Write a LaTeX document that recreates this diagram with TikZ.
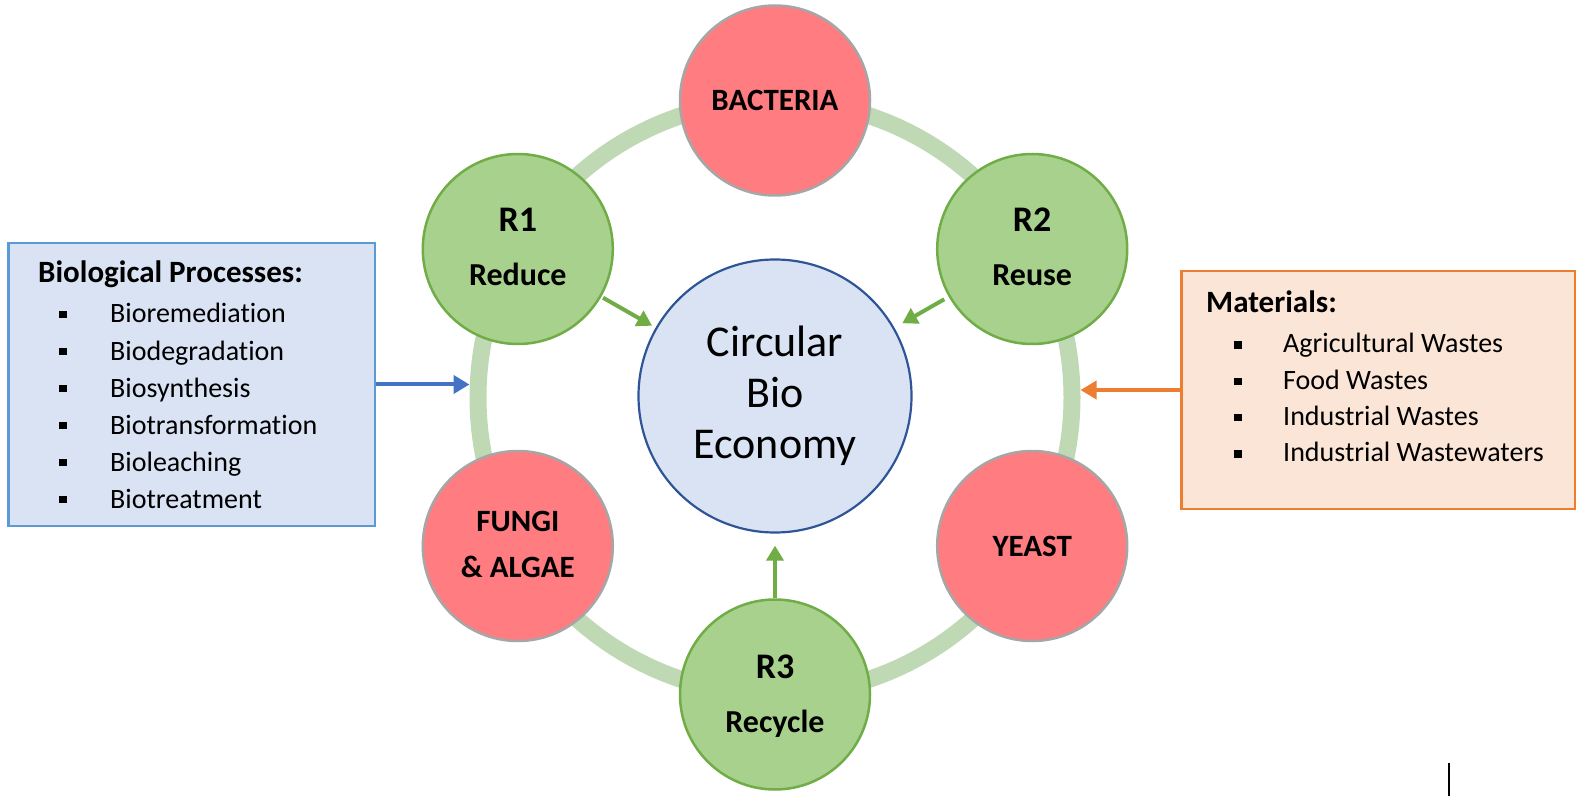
\documentclass[tikz,border=0pt]{standalone}
\usepackage{fontspec}
\setmainfont{Carlito}[Ligatures={NoCommon}]
\usetikzlibrary{arrows.meta,calc}
\definecolor{ringc}{RGB}{191,217,181}
\definecolor{gfill}{HTML}{A9D18E}
\definecolor{gline}{HTML}{70AD47}
\definecolor{rfill}{HTML}{FF7C80}
\definecolor{rline}{HTML}{A6A6A6}
\definecolor{cfill}{HTML}{DAE3F3}
\definecolor{cline}{HTML}{2F5597}
\definecolor{pboxline}{HTML}{5B9BD5}
\definecolor{mfill}{HTML}{FBE5D6}
\definecolor{mline}{HTML}{ED7D31}
\definecolor{barrowc}{HTML}{4472C4}
\begin{document}
\begin{tikzpicture}[x=1pt,y=-1pt,
  ring/.style={circle, draw=ringc, line width=17pt, minimum size=594pt, inner sep=0pt},
  gcirc/.style={circle, fill=gfill, draw=gline, line width=2.5pt, minimum size=190pt, inner sep=0pt},
  rcirc/.style={circle, fill=rfill, draw=rline, line width=2.5pt, minimum size=190pt, inner sep=0pt},
  ccirc/.style={circle, fill=cfill, draw=cline, line width=2.2pt, minimum size=273pt, inner sep=0pt},
  rnum/.style={anchor=base, inner sep=0pt, font=\bfseries\fontsize{36}{40}\selectfont},
  rword/.style={anchor=base, inner sep=0pt, font=\bfseries\fontsize{32}{38}\selectfont},
  mlabel/.style={anchor=base, inner sep=0pt, font=\bfseries\fontsize{31}{37}\selectfont},
  clabel/.style={anchor=base, inner sep=0pt, font=\fontsize{44}{50}\selectfont},
  pbox/.style={rectangle, fill=cfill, draw=pboxline, line width=2.5pt, inner sep=0pt},
  mbox/.style={rectangle, fill=mfill, draw=mline, line width=2.5pt, inner sep=0pt},
  btitle/.style={anchor=base west, inner sep=0pt, font=\bfseries\fontsize{31}{37}\selectfont},
  bitem/.style={anchor=base west, inner sep=0pt, font=\fontsize{28}{34}\selectfont},
  bullet/.style={rectangle, fill=black, minimum size=7.5pt, inner sep=0pt},
  garrow/.style={draw=gline, line width=4pt, -{Triangle[length=15pt,width=17pt]}},
  barrow/.style={draw=barrowc, line width=4pt, -{Triangle[length=16pt,width=18pt]}},
  oarrow/.style={draw=mline, line width=3.5pt, -{Triangle[length=16pt,width=18pt]}}
]
\useasboundingbox (0,0) rectangle (1583,802);

% ring
\node[ring] (ring) at (775,397.5) {};

% circles
\node[rcirc] (bact) at (775,100.5) {};
\node[gcirc] (r1) at (517.8,249) {};
\node[gcirc] (r2) at (1032.2,249) {};
\node[rcirc] (fungi) at (517.8,546) {};
\node[rcirc] (yeast) at (1032.2,546) {};
\node[gcirc] (r3) at (775,694.5) {};
\node[ccirc] (center) at (775,396) {};

% circle labels
\node[mlabel] (bactt) at ($(bact.center)+(0,10.5)$) {BACTERIA};
\node[mlabel] (yeastt) at ($(yeast.center)+(0,10)$) {YEAST};
\node[mlabel] (fungit) at ($(fungi.center)+(0,-15)$) {FUNGI};
\node[mlabel] (algaet) at ($(fungi.center)+(0,31)$) {\& ALGAE};
\node[rnum] (r1n) at ($(r1.center)+(0,-17)$) {R1};
\node[rword] (r1w) at ($(r1.center)+(0,37)$) {Reduce};
\node[rnum] (r2n) at ($(r2.center)+(0,-17)$) {R2};
\node[rword] (r2w) at ($(r2.center)+(0,37)$) {Reuse};
\node[rnum] (r3n) at ($(r3.center)+(0,-16)$) {R3};
\node[rword] (r3w) at ($(r3.center)+(0,38)$) {Recycle};
\node[clabel] (c1) at ($(center.center)+(0,-40)$) {Circular};
\node[clabel] (c2) at ($(center.center)+(0,11)$) {Bio};
\node[clabel] (c3) at ($(center.center)+(0,62)$) {Economy};

% green arrows
\draw[garrow, shorten <=2pt, shorten >=4pt] (r1) -- (center);
\draw[garrow, shorten <=5pt, shorten >=9pt] (r2) -- (center);
\draw[garrow, shorten <=0pt, shorten >=12pt] (r3) -- (center);

% biological processes box
\node[pbox, minimum width=366.5pt, minimum height=282.5pt] (proc) at (191.5,384.5) {};
\node[btitle] (ptitle) at (38,283) {Biological Processes:};
\foreach \t [count=\i] in {Bioremediation,Biodegradation,Biosynthesis,Biotransformation,Bioleaching,Biotreatment}{
  \node[bitem] (pitem\i) at (110,{323+(\i-1)*37}) {\t};
  \node[bullet] (pbul\i) at (63,{314.5+(\i-1)*37}) {};
}

% materials box
\node[mbox, minimum width=393.5pt, minimum height=237.5pt] (mat) at (1378,390) {};
\node[btitle] (mtitle) at (1206,313) {Materials:};
\foreach \t [count=\i] in {Agricultural Wastes,Food Wastes,Industrial Wastes,Industrial Wastewaters}{
  \node[bitem] (mitem\i) at (1283,{353+(\i-1)*36.3}) {\t};
  \node[bullet] (mbul\i) at (1238,{345+(\i-1)*36.3}) {};
}

% side arrows
\draw[barrow] (proc.east) -- (proc.east -| ring.west);
\draw[oarrow] (mat.west) -- (mat.west -| ring.east);

% stray cursor mark
\coordinate (cur1) at (1449,763);
\coordinate (cur2) at (1449,796);
\draw[line width=2pt] (cur1) -- (cur2);
\end{tikzpicture}
\end{document}
